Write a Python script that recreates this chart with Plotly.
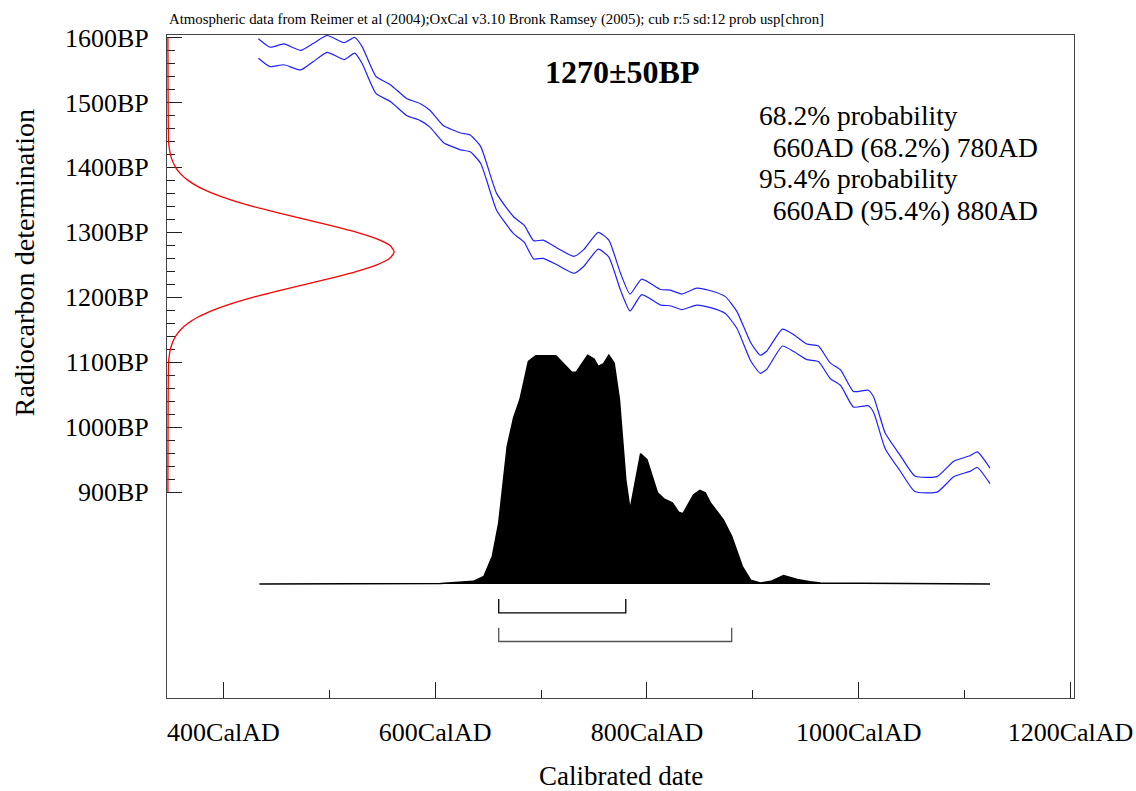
import plotly.graph_objects as go

# ---------------- data ----------------
# calibration curve (IntCal04): calendar year, mean BP, 1-sigma
cal_years = [433, 444, 457, 473, 485, 498, 514, 524, 531, 544, 558, 573, 586, 595, 608, 624,
             633, 643, 658, 674, 684, 693, 702, 715, 731, 740, 754, 764, 775, 784, 795, 813,
             822, 833, 847, 860, 874, 885, 898, 907, 913, 928, 939, 951, 962, 973, 983, 995,
             1009, 1014, 1025, 1039, 1053, 1074, 1090, 1105, 1112, 1124]
curve_bp = [1583, 1570, 1574, 1565, 1577, 1590, 1579, 1588, 1573, 1527, 1514, 1493, 1485, 1475,
            1451, 1440, 1437, 1419, 1347, 1311, 1298, 1273, 1274, 1263, 1250, 1260, 1287, 1275,
            1224, 1192, 1216, 1200, 1199, 1193, 1201, 1197, 1188, 1165, 1116, 1097, 1103, 1138,
            1129, 1116, 1113, 1087, 1076, 1043, 1045, 1035, 979, 945, 913, 912, 936, 944, 950, 925]
curve_err = [15, 15, 16, 15, 14, 13, 13, 12, 13, 13, 13, 13, 13, 13, 13, 13, 13, 13, 13, 13,
             13, 14, 14, 13, 13, 13, 13, 13, 13, 13, 12, 12, 12, 12, 13, 13, 13, 13, 14, 14,
             14, 13, 13, 12, 12, 12, 12, 12, 12, 12, 12, 12, 12, 12, 12, 12, 12, 12]

red_bp = [900, 1100, 1110, 1120, 1130, 1140, 1150, 1160, 1170, 1180, 1190, 1200, 1210, 1220,
          1230, 1240, 1250, 1260, 1270, 1280, 1290, 1300, 1310, 1320, 1330, 1340, 1350, 1360,
          1370, 1380, 1390, 1400, 1410, 1420, 1430, 1440, 1600]
red_density = [0, 0.003, 0.006, 0.011, 0.020, 0.034, 0.056, 0.089, 0.135, 0.198, 0.278, 0.375,
               0.487, 0.607, 0.726, 0.835, 0.923, 0.980, 1.0, 0.980, 0.923, 0.835, 0.726, 0.607,
               0.487, 0.375, 0.278, 0.198, 0.135, 0.089, 0.056, 0.034, 0.020, 0.011, 0.006,
               0.003, 0]

# calibrated probability distribution (relative)
prob_years = [434, 605, 636, 646, 654, 660, 668, 674, 680, 688, 695, 714, 729, 733, 744, 750,
              754, 759, 764, 769, 774, 780, 784, 794, 800, 810, 816, 824, 830, 834, 844, 850,
              855, 860, 872, 880, 890, 898, 907, 917, 929, 942, 954, 964, 1124]
prob_vals = [0, 0.002, 0.011, 0.033, 0.121, 0.267, 0.601, 0.726, 0.806, 0.973, 0.998, 0.998,
             0.925, 0.925, 1.0, 0.983, 0.951, 0.963, 1.0, 0.966, 0.806, 0.456, 0.325, 0.569,
             0.543, 0.398, 0.372, 0.354, 0.313, 0.307, 0.390, 0.409, 0.398, 0.354, 0.281,
             0.208, 0.077, 0.016, 0.004, 0.011, 0.036, 0.019, 0.009, 0.004, 0]

# ranges
range_68 = [660, 780]
range_95 = [660, 880]

x_major = [400, 600, 800, 1000, 1200]
x_major_text = ["400CalAD", "600CalAD", "800CalAD", "1000CalAD", "1200CalAD"]
x_minor = [500, 700, 900, 1100]
y_major = [900, 1000, 1100, 1200, 1300, 1400, 1500, 1600]
y_major_text = ["900BP", "1000BP", "1100BP", "1200BP", "1300BP", "1400BP", "1500BP", "1600BP"]
y_minor = [v for v in range(900, 1601, 20) if v % 100 != 0]

header_text = ("Atmospheric data from Reimer et al (2004);OxCal v3.10 Bronk Ramsey (2005); "
               "cub r:5 sd:12 prob usp[chron]")
title_text = "1270±50BP"
info_lines = ["68.2% probability", "  660AD (68.2%) 780AD",
              "95.4% probability", "  660AD (95.4%) 880AD"]

# ---------------- layout geometry ----------------
W, H = 1136, 791
L, R, T, B = 166.5, 1074, 35, 698.5
FONT = "Liberation Serif"


def paper(px, py):
    return (px - L) / (R - L), (B - py) / (B - T)


upper = [m + e for m, e in zip(curve_bp, curve_err)]
lower = [m - e for m, e in zip(curve_bp, curve_err)]

fig = go.Figure()

# red radiocarbon distribution along the y axis
fig.add_trace(go.Scatter(x=red_density, y=red_bp, xaxis="x2", yaxis="y", mode="lines",
                         line=dict(color="#ff0000", width=1.3, shape="spline", smoothing=0.6),
                         hoverinfo="skip", showlegend=False))
# calibration curve band
for arr in (upper, lower):
    fig.add_trace(go.Scatter(x=cal_years, y=arr, xaxis="x", yaxis="y", mode="lines",
                             line=dict(color="#2020ff", width=1.2, shape="spline", smoothing=0.5),
                             hoverinfo="skip", showlegend=False))
# calibrated distribution
fig.add_trace(go.Scatter(x=prob_years, y=prob_vals, xaxis="x", yaxis="y2", mode="lines",
                         fill="tozeroy", fillcolor="#000000",
                         line=dict(color="#000000", width=1.5),
                         hoverinfo="skip", showlegend=False))
# range brackets
for rng, ybar, ytop, col in ((range_68, -0.127, -0.066, "#000000"),
                             (range_95, -0.252, -0.192, "#555555")):
    fig.add_trace(go.Scatter(x=[rng[0], rng[0], rng[1], rng[1]], y=[ytop, ybar, ybar, ytop],
                             xaxis="x", yaxis="y2", mode="lines",
                             line=dict(color=col, width=1.3),
                             hoverinfo="skip", showlegend=False))

axis_common = dict(showgrid=False, zeroline=False, showline=True, linecolor="#444444",
                   linewidth=1.2, mirror=True, ticks="inside", tickcolor="#222222",
                   tickwidth=1.2, tickfont=dict(family=FONT, size=26, color="#000000"))

fig.update_layout(
    width=W, height=H,
    margin=dict(l=L, r=W - R, t=T, b=H - B, autoexpand=False),
    paper_bgcolor="white", plot_bgcolor="white",
    font=dict(family=FONT, color="#000000"),
    xaxis=dict(range=[346.7, 1203.3], tickmode="array", tickvals=x_major, ticktext=x_major_text,
               ticklen=16, ticklabelstandoff=11,
               minor=dict(tickvals=x_minor, ticklen=8, ticks="inside",
                          tickcolor="#222222", tickwidth=1.2),
               **axis_common),
    yaxis=dict(range=[583.1, 1603.8], tickmode="array", tickvals=y_major, ticktext=y_major_text,
               ticklen=15, layer="below traces", ticklabelstandoff=12,
               minor=dict(tickvals=y_minor, ticklen=8, ticks="inside",
                          tickcolor="#222222", tickwidth=1.2),
               **axis_common),
    xaxis2=dict(range=[-0.004, 4.003], overlaying="x", anchor="y", visible=False),
    yaxis2=dict(range=[-0.499, 2.400], overlaying="y", anchor="x", visible=False),
)

annotations = []
hx, hy = paper(167, 19)
annotations.append(dict(text=header_text, x=hx, y=hy, xanchor="left", yanchor="middle",
                        font=dict(family=FONT, size=14.8)))
tx, ty = paper(622, 72)
annotations.append(dict(text="<b>" + title_text + "</b>", x=tx, y=ty, xanchor="center",
                        yanchor="middle", font=dict(family=FONT, size=32)))
for line, yy in zip(info_lines, [116, 147.5, 179, 211]):
    ix, iy = paper(757, yy)
    annotations.append(dict(text=line.replace(" ", "&nbsp;") if line.startswith(" ") else line,
                            x=ix, y=iy, xanchor="left", yanchor="middle",
                            font=dict(family=FONT, size=27.5)))
ax_, ay_ = paper(24, 263)
annotations.append(dict(text="Radiocarbon determination", x=ax_, y=ay_, textangle=-90,
                        xanchor="center", yanchor="middle", font=dict(family=FONT, size=28.2)))
cx, cy = paper(621, 776.5)
annotations.append(dict(text="Calibrated date", x=cx, y=cy, xanchor="center",
                        yanchor="middle", font=dict(family=FONT, size=27)))
for a in annotations:
    a.update(xref="paper", yref="paper", showarrow=False)
fig.update_layout(annotations=annotations)

fig.write_html("out.html", config={"displayModeBar": False},
               post_script="document.body.style.margin='0px';")
